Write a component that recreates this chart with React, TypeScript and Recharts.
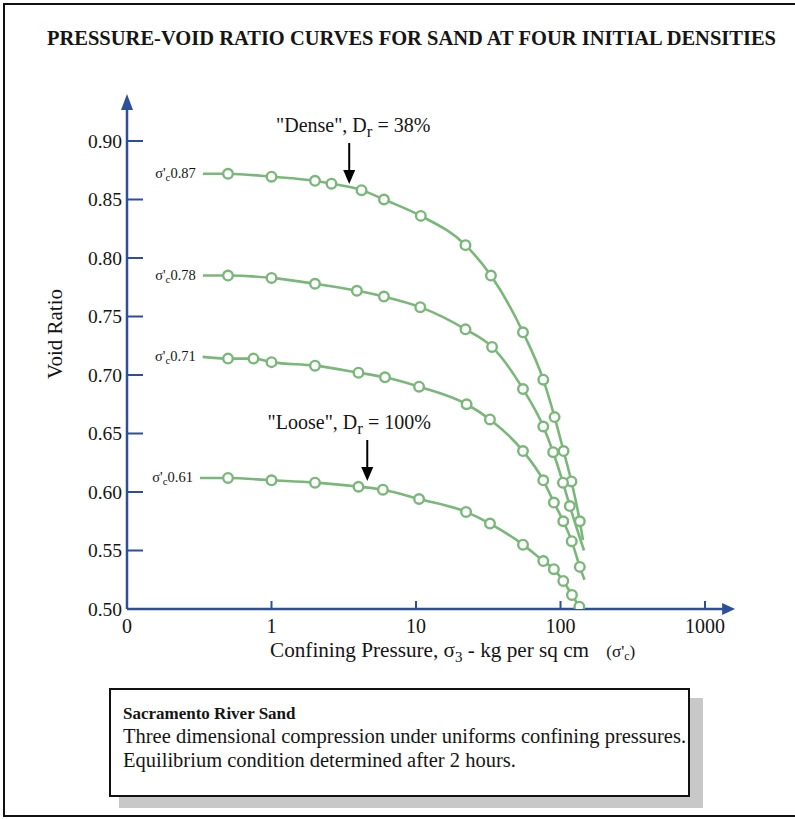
import { ComposedChart, Line, XAxis, YAxis, ReferenceDot, Label } from "recharts"

const AXIS = "#2d4f9b"
const GREEN = "#79b879"
const INK = "#151515"
const SERIF = '"Liberation Serif", "Times New Roman", serif'

const pressureTicks = [0.1, 1, 10, 100, 1000]
const voidTicks = [0.5, 0.55, 0.6, 0.65, 0.7, 0.75, 0.8, 0.85, 0.9]

// measured points, pressure (kg/sq cm) and void ratio
const p087 = [0.5, 1.0, 2.0, 2.6, 4.2, 6.0, 10.8, 22, 33, 55, 76, 91, 105, 119, 136]
const e087 = [0.872, 0.8695, 0.866, 0.8635, 0.858, 0.85, 0.836, 0.811, 0.785, 0.7365, 0.696, 0.664, 0.635, 0.609, 0.575]

const p078 = [0.5, 1.0, 2.0, 3.9, 6.0, 10.7, 22, 33.6, 55, 76, 89, 104, 116]
const e078 = [0.785, 0.783, 0.778, 0.772, 0.767, 0.758, 0.739, 0.724, 0.688, 0.656, 0.634, 0.608, 0.588]

const p071 = [0.5, 0.75, 1.0, 2.0, 4.0, 6.1, 10.5, 22.4, 32.5, 55, 76, 90, 104.5, 119.6, 136]
const e071 = [0.714, 0.714, 0.711, 0.708, 0.702, 0.698, 0.69, 0.675, 0.662, 0.635, 0.61, 0.591, 0.575, 0.558, 0.536]

const p061 = [0.5, 1.0, 2.0, 4.0, 5.9, 10.5, 22.2, 32.5, 55, 76, 90, 104.5, 120, 135]
const e061 = [0.612, 0.61, 0.608, 0.6045, 0.602, 0.594, 0.583, 0.573, 0.555, 0.541, 0.534, 0.524, 0.512, 0.502]

// where each drawn curve begins and ends beyond the measured points
const curveLabels = ["0.87", "0.78", "0.71", "0.61"]
const startP = [0.335, 0.335, 0.334, 0.32]
const startE = [0.872, 0.785, 0.7155, 0.612]
const endP = [143, 145.5, 146.6, null]
const endE = [0.559, 0.55, 0.525, null]

const measured = [
  [p087, e087],
  [p078, e078],
  [p071, e071],
  [p061, e061],
]

type Row = { p: number; e: number; m: boolean }

const curves: Row[][] = measured.map(([ps, es], i) => {
  const rows: Row[] = [{ p: startP[i], e: startE[i], m: false }]
  ps.forEach((p, j) => rows.push({ p, e: es[j], m: true }))
  if (endP[i] != null) rows.push({ p: endP[i] as number, e: endE[i] as number, m: false })
  return rows
})

const W = 795
const H = 680
const DECADE = 144.5
const X_MAX = 1400
const Y_MAX = 0.93
const PLOT_LEFT = 127
const PLOT_BOTTOM = 609
const plotW = DECADE * Math.log10(X_MAX / 0.1)
const plotH = ((Y_MAX - 0.5) / 0.05) * 58.5
const margin = {
  top: PLOT_BOTTOM - plotH,
  left: PLOT_LEFT - 60,
  right: W - PLOT_LEFT - plotW,
  bottom: H - PLOT_BOTTOM - 50,
}

function PressureTick({ x, y, payload }: any) {
  const v = payload.value
  return (
    <g>
      {v > 0.1 && v <= 1000 && (
        <line x1={x} x2={x} y1={PLOT_BOTTOM} y2={PLOT_BOTTOM - 8} stroke={AXIS} strokeWidth={2} />
      )}
      <text x={x} y={y} dy="0.71em" textAnchor="middle" fontSize={20} fill={INK} fontFamily={SERIF}>
        {v === 0.1 ? "0" : String(v)}
      </text>
    </g>
  )
}

function VoidTick({ x, y, payload }: any) {
  const v = payload.value
  return (
    <g>
      {v > 0.5 && (
        <line x1={PLOT_LEFT} x2={PLOT_LEFT + 16} y1={y} y2={y} stroke={AXIS} strokeWidth={2} />
      )}
      <text x={x} y={y} dy="0.35em" textAnchor="end" fontSize={19.5} fill={INK} fontFamily={SERIF}>
        {v.toFixed(2)}
      </text>
    </g>
  )
}

function renderDot(props: any) {
  const { cx, cy, payload, index } = props
  if (!payload.m) return <g key={`d${index}`} />
  return <circle key={`d${index}`} cx={cx} cy={cy} r={4.8} fill="#fff" stroke={GREEN} strokeWidth={2.4} />
}

function curveTag(text: string) {
  return (props: any) => (
    <text x={props.cx - 7} y={props.cy} dy="0.3em" textAnchor="end" fontSize={14.5} fill={INK} fontFamily={SERIF}>
      σ'<tspan fontSize={11} dy={3}>c</tspan>
      <tspan dy={-3}>{text}</tspan>
    </text>
  )
}

function callout(label: string, pct: string, dx: number) {
  return (props: any) => {
    const { cx, cy } = props
    return (
      <g>
        <line x1={cx} x2={cx} y1={cy - 41} y2={cy - 12} stroke="#000" strokeWidth={2} />
        <path d={`M${cx - 6},${cy - 14} L${cx + 6},${cy - 14} L${cx},${cy} Z`} fill="#000" />
        <text x={cx + dx} y={cy - 52} textAnchor="middle" fontSize={20} fill={INK} fontFamily={SERIF}>
          "{label}", D<tspan fontSize={17} dy={5}>r</tspan>
          <tspan dy={-5}> = {pct}</tspan>
        </text>
      </g>
    )
  }
}

const arrowRight = (props: any) => (
  <path d={`M${props.cx - 4},${props.cy - 6} L${props.cx + 9},${props.cy} L${props.cx - 4},${props.cy + 6} Z`} fill={AXIS} />
)
const arrowUp = (props: any) => (
  <path d={`M${props.cx - 6},${props.cy + 4} L${props.cx},${props.cy - 12} L${props.cx + 6},${props.cy + 4} Z`} fill={AXIS} />
)

export default function App() {
  return (
    <div style={{ position: "relative", width: W, height: 819, overflow: "hidden", background: "#fff", fontFamily: SERIF }}>
      <style>{"body{margin:0}"}</style>
      <div style={{ position: "absolute", left: 3, top: 3, width: 820, height: 814, border: "2px solid #111", boxSizing: "border-box" }} />
      <div style={{ position: "absolute", left: 0, top: 27, width: 823, textAlign: "center", fontWeight: "bold", fontSize: 20.5, color: INK, whiteSpace: "nowrap" }}>
        PRESSURE-VOID RATIO CURVES FOR SAND AT FOUR INITIAL DENSITIES
      </div>

      <div style={{ position: "absolute", left: 0, top: 0 }}>
        <ComposedChart width={W} height={H} margin={margin}>
          <XAxis
            type="number"
            dataKey="p"
            scale="log"
            domain={[0.1, X_MAX]}
            ticks={pressureTicks}
            allowDataOverflow
            height={50}
            tickSize={0}
            tickMargin={10}
            tickLine={false}
            axisLine={{ stroke: AXIS, strokeWidth: 2.5 }}
            tick={<PressureTick />}
          >
            <Label
              content={(props: any) => {
                const vb = props.viewBox
                return (
                  <text x={vb.x + 143} y={vb.y + 48} fontSize={21.2} fill={INK} fontFamily={SERIF}>
                    Confining Pressure, σ<tspan fontSize={15} dy={5}>3</tspan>
                    <tspan dy={-5}> - kg per sq cm </tspan>
                    <tspan fontSize={17} dx={12}>(σ'</tspan>
                    <tspan fontSize={12} dy={3}>c</tspan>
                    <tspan fontSize={17} dy={-3}>)</tspan>
                  </text>
                )
              }}
            />
          </XAxis>
          <YAxis
            type="number"
            dataKey="e"
            domain={[0.5, Y_MAX]}
            ticks={voidTicks}
            allowDataOverflow
            width={60}
            tickSize={0}
            tickMargin={5}
            tickLine={false}
            axisLine={{ stroke: AXIS, strokeWidth: 2.5 }}
            tick={<VoidTick />}
          >
            <Label
              content={() => (
                <text x={55} y={334} transform="rotate(-90 55 334)" textAnchor="middle" dy="0.35em" fontSize={21} fill={INK} fontFamily={SERIF}>
                  Void Ratio
                </text>
              )}
            />
          </YAxis>

          {curves.map((rows, i) => (
            <Line
              key={curveLabels[i]}
              data={rows}
              dataKey="e"
              type="monotone"
              stroke={GREEN}
              strokeWidth={2.6}
              dot={renderDot}
              activeDot={false}
              isAnimationActive={false}
            />
          ))}

          {curves.map((rows, i) => (
            <ReferenceDot key={`t${i}`} x={rows[0].p} y={rows[0].e} r={0} shape={curveTag(curveLabels[i])} />
          ))}

          <ReferenceDot x={3.45} y={0.8632} shape={callout("Dense", "38%", 4)} />
          <ReferenceDot x={4.6} y={0.6094} shape={callout("Loose", "100%", -18)} />

          <ReferenceDot x={X_MAX} y={0.5} shape={arrowRight} />
          <ReferenceDot x={0.1} y={Y_MAX} shape={arrowUp} />
        </ComposedChart>
      </div>

      <div style={{ position: "absolute", left: 119, top: 698, width: 584, height: 110, background: "#c8c8c8" }} />
      <div
        style={{
          position: "absolute",
          left: 109,
          top: 688,
          width: 581,
          height: 109,
          boxSizing: "border-box",
          border: "2px solid #111",
          background: "#fff",
          padding: "13px 0 0 12px",
          color: INK,
          whiteSpace: "nowrap",
        }}
      >
        <div style={{ fontWeight: "bold", fontSize: 17, lineHeight: "21px" }}>Sacramento River Sand</div>
        <div style={{ fontSize: 20.5, lineHeight: "24px" }}>Three dimensional compression under uniforms confining pressures.</div>
        <div style={{ fontSize: 20.5, lineHeight: "24px" }}>Equilibrium condition determined after 2 hours.</div>
      </div>
    </div>
  )
}
